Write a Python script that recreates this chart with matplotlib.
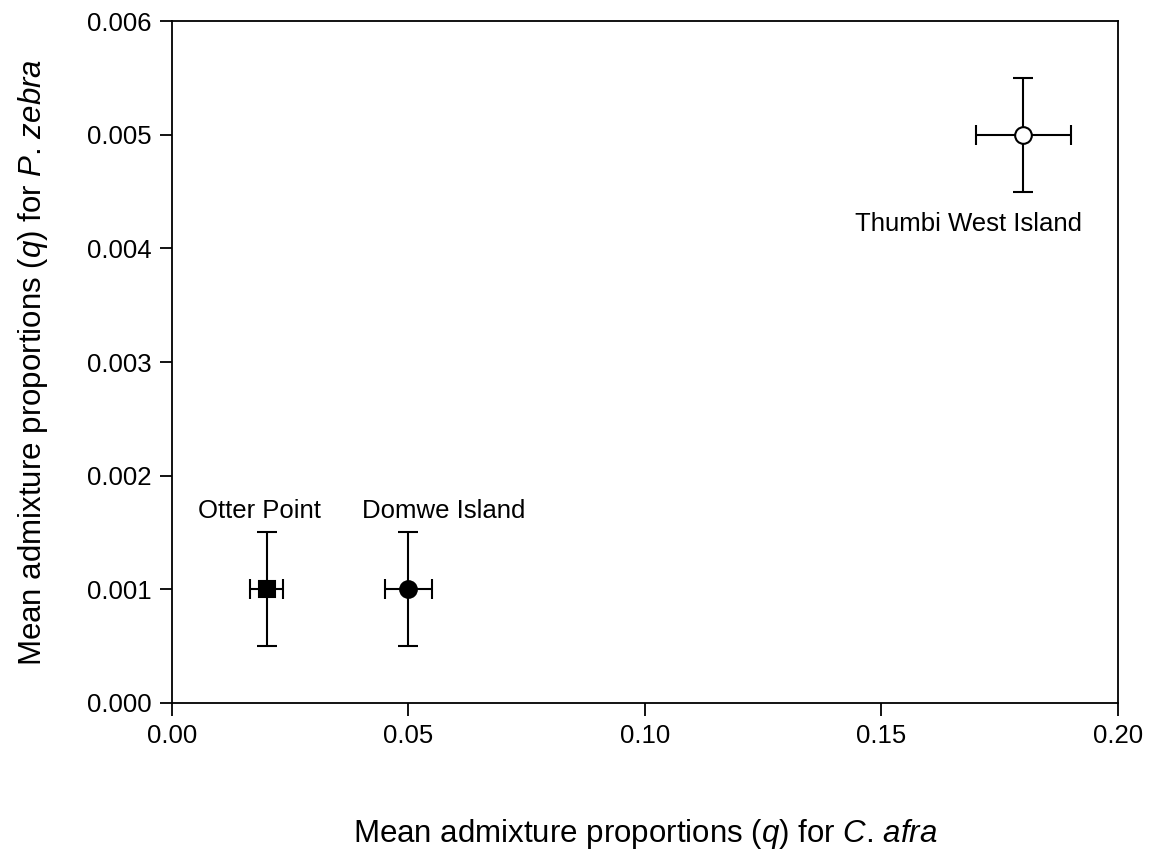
import matplotlib.pyplot as plt

plt.rcParams["font.family"] = ["Liberation Sans", "DejaVu Sans"]
plt.rcParams["mathtext.fontset"] = "custom"
plt.rcParams["mathtext.rm"] = "Liberation Sans"
plt.rcParams["mathtext.it"] = "Liberation Sans:italic"

sites = ["Otter Point", "Domwe Island", "Thumbi West Island"]
q_afra = [0.02, 0.05, 0.18]
q_afra_err = [0.0035, 0.005, 0.01]
q_zebra = [0.001, 0.001, 0.005]
q_zebra_err = [0.0005, 0.0005, 0.0005]
markers = ["s", "o", "o"]
faces = ["black", "black", "white"]

# where each site name sits (x centre, y anchor) and how it is anchored
label_x = [0.0184, 0.0575, 0.1683]
label_y = [0.00163, 0.00163, 0.00432]
label_va = ["baseline", "baseline", "top"]

fig = plt.figure(figsize=(11.49, 8.55), dpi=100)
ax = fig.add_axes([0.1497, 0.1778, 0.8233, 0.7976])

for x, xe, y, ye, m, fc in zip(q_afra, q_afra_err, q_zebra, q_zebra_err, markers, faces):
    ax.errorbar(x, y, xerr=xe, yerr=ye, fmt=m, mfc=fc, mec="black",
                ms=12 if m == "o" else 11.5,
                ecolor="black", elinewidth=1.5, capsize=7.5, capthick=1.5,
                mew=1.5, zorder=3)

for name, lx, ly, va in zip(sites, label_x, label_y, label_va):
    ax.text(lx, ly, name, ha="center", va=va, fontsize=18.5)

ax.set_xlim(0, 0.2)
ax.set_ylim(0, 0.006)
ax.set_xticks([0.0, 0.05, 0.10, 0.15, 0.20])
ax.set_xticklabels(["0.00", "0.05", "0.10", "0.15", "0.20"])
ax.set_yticks([0.000, 0.001, 0.002, 0.003, 0.004, 0.005, 0.006])
ax.set_yticklabels(["0.000", "0.001", "0.002", "0.003", "0.004", "0.005", "0.006"])
ax.tick_params(direction="out", length=9, width=1.3, labelsize=18.5, pad=6)
for s in ax.spines.values():
    s.set_linewidth(1.3)

ax.set_xlabel("Mean admixture proportions ($\\it{q}$) for $\\it{C}$. $\\it{afra}$",
              fontsize=22.5, labelpad=50)
ax.set_ylabel("Mean admixture proportions ($\\it{q}$) for $\\it{P}$. $\\it{zebra}$",
              fontsize=22.5, labelpad=26)

fig.savefig("out.png", dpi=100)
